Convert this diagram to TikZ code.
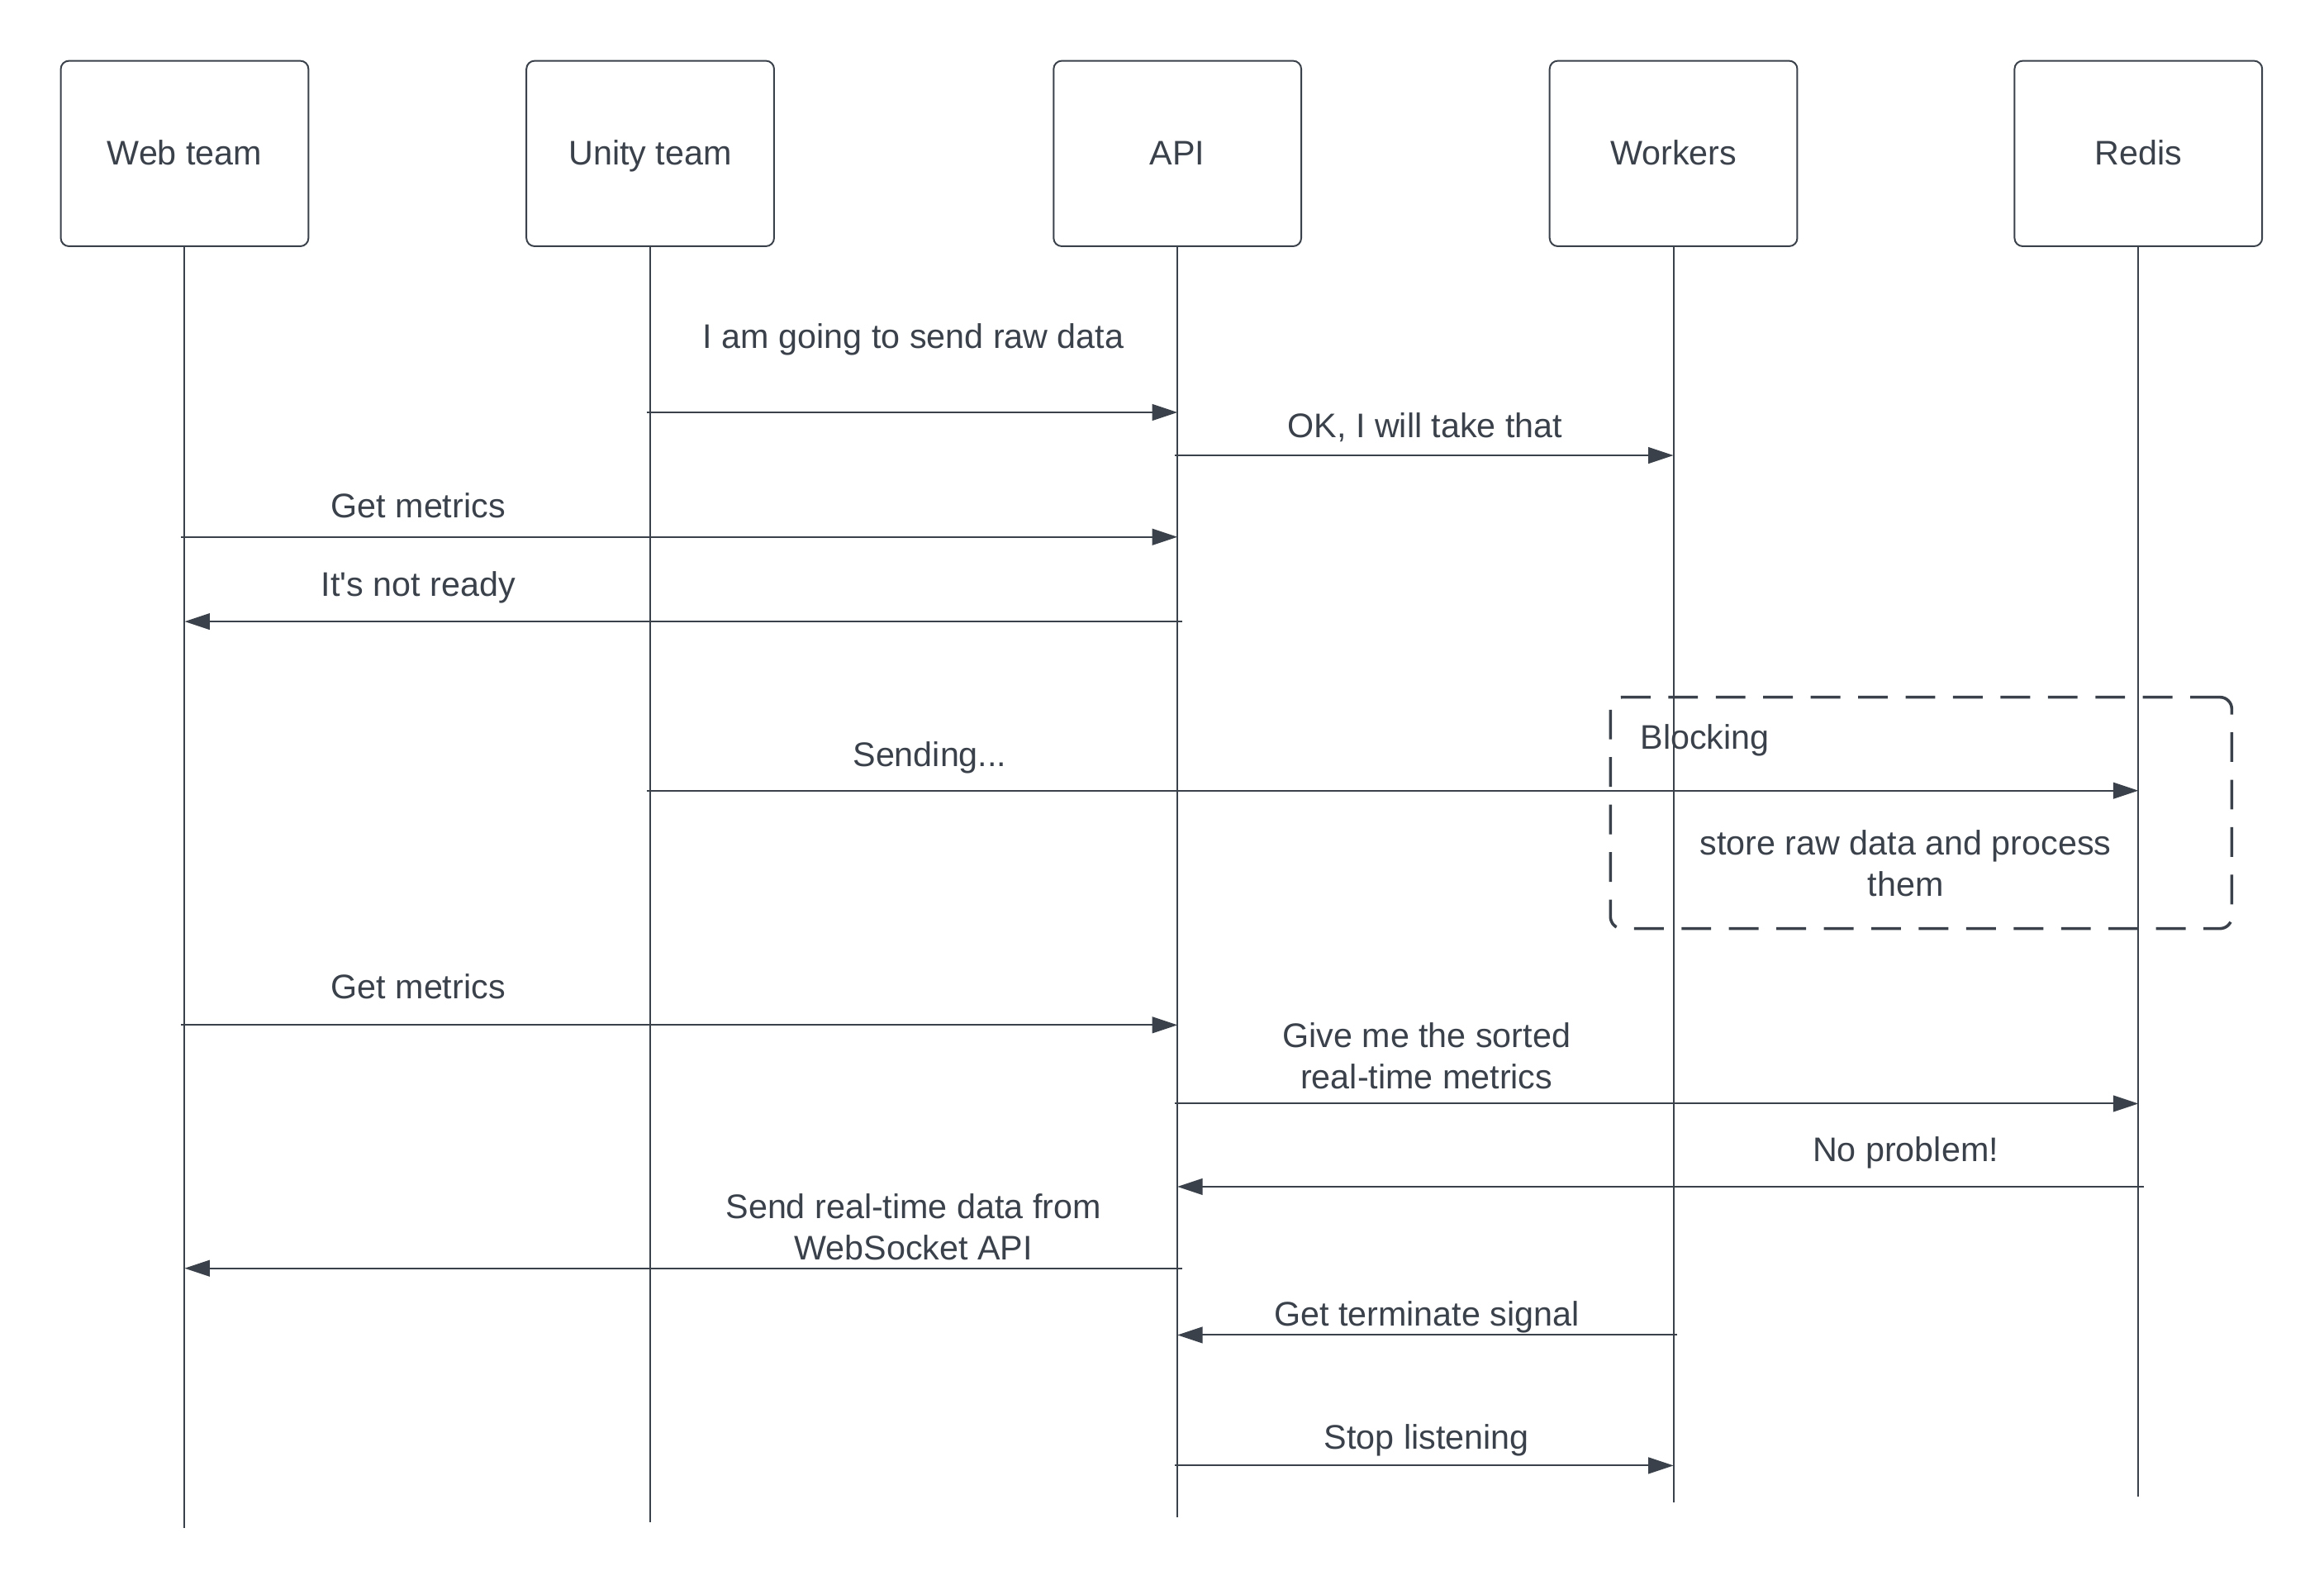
\documentclass[tikz,border=0pt]{standalone}
\usepackage{fontspec}
\setmainfont{Liberation Sans}
\usetikzlibrary{arrows.meta}
\definecolor{ink}{RGB}{58,65,74}
\begin{document}
\begin{tikzpicture}[x=1pt,y=1pt,
  actor/.style={draw=ink, line width=1.1pt, rounded corners=5.5pt, minimum width=167pt, minimum height=125pt, inner sep=0pt, text height=17pt, text depth=2pt, text=ink, font=\fontsize{23}{28}\selectfont},
  life/.style={draw=ink, line width=1.1pt},
  msg/.style={draw=ink, line width=1.1pt, -{Triangle[length=17pt,width=11pt]}},
  lbl/.style={text=ink, font=\fontsize{23}{28}\selectfont, inner sep=0pt, anchor=base},
  lbltwo/.style={text=ink, font=\fontsize{23}{28}\selectfont, inner sep=0pt, align=center, anchor=center},
  blockframe/.style={draw=ink, line width=2pt, dash pattern=on 20pt off 12pt, rounded corners=8pt, inner sep=0pt}]
\useasboundingbox (0,0) rectangle (1567.2,-1071.9);
% actors
\node[actor] (web) at (124.5,-103.5) {Web team};
\node[actor] (unity) at (438.5,-103.5) {Unity team};
\node[actor] (api) at (794,-103.5) {API};
\node[actor] (workers) at (1128.5,-103.5) {Workers};
\node[actor] (redis) at (1442,-103.5) {Redis};
% lifelines
\coordinate (webend) at (124.5,-1030);
\coordinate (unityend) at (438.5,-1026);
\coordinate (apiend) at (794,-1023);
\coordinate (workersend) at (1128.5,-1013);
\coordinate (redisend) at (1442,-1009);
\draw[life] (web.south) -- (webend);
\draw[life] (unity.south) -- (unityend);
\draw[life] (api.south) -- (apiend);
\draw[life] (workers.south) -- (workersend);
\draw[life] (redis.south) -- (redisend);
% blocking frame
\node[blockframe, minimum width=419pt, minimum height=156pt] (blk) at (1295.5,-548) {};
\node[lbl, anchor=base west] (blklbl) at (1106,-505) {Blocking};
\node[lbltwo] (blktxt) at (1285,-582) {store raw data and process\\them};
% message end points
\coordinate (m1a) at (436,-278);   \coordinate (m1b) at (794,-278);
\coordinate (m2a) at (792,-307);   \coordinate (m2b) at (1128.5,-307);
\coordinate (m3a) at (122,-362);   \coordinate (m3b) at (794,-362);
\coordinate (m4a) at (797,-419);   \coordinate (m4b) at (124.5,-419);
\coordinate (m5a) at (436,-533);   \coordinate (m5b) at (1442,-533);
\coordinate (m6a) at (122,-691);   \coordinate (m6b) at (794,-691);
\coordinate (m7a) at (792,-744);   \coordinate (m7b) at (1442,-744);
\coordinate (m8a) at (1446,-800);  \coordinate (m8b) at (794,-800);
\coordinate (m9a) at (797,-855);   \coordinate (m9b) at (124.5,-855);
\coordinate (m10a) at (1131,-900); \coordinate (m10b) at (794,-900);
\coordinate (m11a) at (792,-988);  \coordinate (m11b) at (1128.5,-988);
% messages
\draw[msg] (m1a) -- (m1b);
\draw[msg] (m2a) -- (m2b);
\draw[msg] (m3a) -- (m3b);
\draw[msg] (m4a) -- (m4b);
\draw[msg] (m5a) -- (m5b);
\draw[msg] (m6a) -- (m6b);
\draw[msg] (m7a) -- (m7b);
\draw[msg] (m8a) -- (m8b);
\draw[msg] (m9a) -- (m9b);
\draw[msg] (m10a) -- (m10b);
\draw[msg] (m11a) -- (m11b);
% labels
\node[lbl] (l1) at (616,-235) {I am going to send raw data};
\node[lbl] (l2) at (961,-295) {OK, I will take that};
\node[lbl] (l3) at (282,-349) {Get metrics};
\node[lbl] (l4) at (282,-402) {It\textquotesingle s not ready};
\node[lbl] (l5) at (627,-517) {Sending...};
\node[lbl] (l6) at (282,-673) {Get metrics};
\node[lbltwo] (l7) at (962,-712) {Give me the sorted\\real-time metrics};
\node[lbl] (l8) at (1285,-783) {No problem!};
\node[lbltwo] (l9) at (616,-827) {Send real-time data from\\WebSocket API};
\node[lbl] (l10) at (962,-894) {Get terminate signal};
\node[lbl] (l11) at (962,-977) {Stop listening};
\end{tikzpicture}
\end{document}
